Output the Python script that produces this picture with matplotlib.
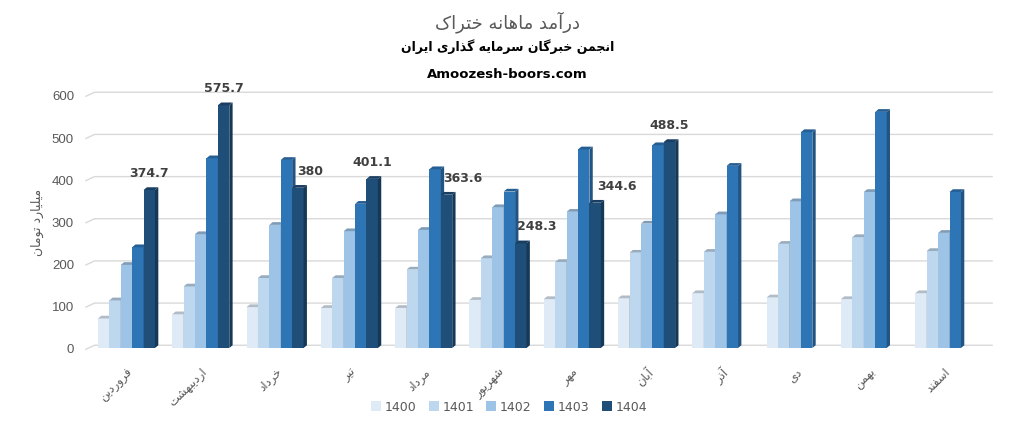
import matplotlib
matplotlib.use("Agg")
import matplotlib.pyplot as plt
from matplotlib.patches import Polygon
import numpy as np

# ---------------- data ----------------
months = ["فروردین", "اردیبهشت", "خرداد", "تیر", "مرداد", "شهریور",
          "مهر", "آبان", "آذر", "دی", "بهمن", "اسفند"]
years = ["1400", "1401", "1402", "1403", "1404"]
v1400 = [70, 80, 97, 95, 95, 114, 116, 118, 130, 120, 116, 130]
v1401 = [113, 146, 166, 166, 186, 213, 204, 226, 228, 247, 263, 230]
v1402 = [197, 270, 292, 277, 280, 334, 323, 295, 317, 348, 370, 273]
v1403 = [239, 450, 446, 342, 424, 371, 471, 481, 432, 512, 560, 370]
v1404 = [374.7, 575.7, 380, 401.1, 363.6, 248.3, 344.6, 488.5]
series = [v1400, v1401, v1402, v1403, v1404]
yticks = [0, 100, 200, 300, 400, 500, 600]

title_txt = "درآمد ماهانه ختراک"
subtitle_txt = "انجمن خبرگان سرمایه گذاری ایران"
site_txt = "Amoozesh-boors.com"
ylabel_txt = "میلیارد تومان"

colors = ["#DEEBF7", "#BDD7EE", "#9DC3E6", "#2E75B6", "#1F4E79"]

# ---------------- Persian shaping ----------------
FORMS = {
    'ا': ('\uFE8D', '\uFE8E', None, None),
    'آ': ('\uFE81', '\uFE82', None, None),
    'ب': ('\uFE8F', '\uFE90', '\uFE91', '\uFE92'),
    'ت': ('\uFE95', '\uFE96', '\uFE97', '\uFE98'),
    'ج': ('\uFE9D', '\uFE9E', '\uFE9F', '\uFEA0'),
    'خ': ('\uFEA5', '\uFEA6', '\uFEA7', '\uFEA8'),
    'د': ('\uFEA9', '\uFEAA', None, None),
    'ذ': ('\uFEAB', '\uFEAC', None, None),
    'ر': ('\uFEAD', '\uFEAE', None, None),
    'ز': ('\uFEAF', '\uFEB0', None, None),
    'س': ('\uFEB1', '\uFEB2', '\uFEB3', '\uFEB4'),
    'ش': ('\uFEB5', '\uFEB6', '\uFEB7', '\uFEB8'),
    'ف': ('\uFED1', '\uFED2', '\uFED3', '\uFED4'),
    'ل': ('\uFEDD', '\uFEDE', '\uFEDF', '\uFEE0'),
    'م': ('\uFEE1', '\uFEE2', '\uFEE3', '\uFEE4'),
    'ن': ('\uFEE5', '\uFEE6', '\uFEE7', '\uFEE8'),
    'ه': ('\uFEE9', '\uFEEA', '\uFEEB', '\uFEEC'),
    'و': ('\uFEED', '\uFEEE', None, None),
    '\u06CC': ('\uFBFC', '\uFBFD', '\uFBFE', '\uFBFF'),
    '\u06A9': ('\uFB8E', '\uFB8F', '\uFB90', '\uFB91'),
    '\u06AF': ('\uFB92', '\uFB93', '\uFB94', '\uFB95'),
}
NORM = {'\u064A': '\u06CC', '\u0643': '\u06A9'}


def fa(s):
    s = "".join(NORM.get(c, c) for c in s)
    out = []
    n = len(s)
    for i, c in enumerate(s):
        if c not in FORMS:
            out.append(c)
            continue
        f = FORMS[c]
        prev = s[i - 1] if i > 0 else None
        nxt = s[i + 1] if i < n - 1 else None
        pj = prev is not None and prev in FORMS and FORMS[prev][2] is not None
        nj = f[2] is not None and nxt is not None and nxt in FORMS
        if pj and nj:
            g = f[3]
        elif pj:
            g = f[1]
        elif nj:
            g = f[2]
        else:
            g = f[0]
        out.append(g)
    return "".join(out[::-1])


# ---------------- figure ----------------
W, H = 1013, 431
fig = plt.figure(figsize=(W / 100, H / 100), dpi=100)
ax = fig.add_axes([89.3 / W, 1 - 349 / H, (981 - 89.3) / W, (349 - 96) / H])
ax.set_xlim(-0.5, 11.5)
ax.set_ylim(0, 600)

x = np.arange(len(months))
bw = 0.1535
ddx = 0.045   # depth in x (data units)
ddy = 6.5     # depth in y (data units)


def shade(c, f):
    r, g, b = matplotlib.colors.to_rgb(c)
    return (r * f, g * f, b * f)


# back gridlines with slanted left part
for v in yticks:
    ax.plot([-0.545, -0.43, 11.5 + 0.15], [v - 3, v + ddy, v + ddy],
            color="#D9D9D9", lw=1, zorder=0, clip_on=False)

containers = []
for j, vals in enumerate(series):
    xs = x[:len(vals)] + (j - 2) * bw
    c = ax.bar(xs, vals, width=bw, color=colors[j], label=years[j],
               zorder=2 + j, linewidth=0)
    containers.append(c)
    for xi, h in zip(xs, vals):
        l, r = xi - bw / 2, xi + bw / 2
        side = Polygon([(r, 0), (r + ddx, ddy), (r + ddx, h + ddy), (r, h)],
                       closed=True, facecolor=shade(colors[j], 0.72),
                       edgecolor="none", zorder=2 + j)
        top = Polygon([(l, h), (l + ddx, h + ddy), (r + ddx, h + ddy), (r, h)],
                      closed=True, facecolor=shade(colors[j], 0.8),
                      edgecolor="none", zorder=2 + j)
        ax.add_patch(side)
        ax.add_patch(top)

# data labels for 1404
label_dx = [0, 0, 12, 0, 16, 16, 22, 0]
for i, v in enumerate(v1404):
    xi = x[i] + 2 * bw
    ax.annotate(f"{v:g}", (xi, v), xytext=(label_dx[i], 11),
                textcoords="offset pixels", ha="center", va="bottom",
                fontsize=9, fontweight="bold", color="#404040",
                family="DejaVu Sans", zorder=10)

for s in ax.spines.values():
    s.set_visible(False)
ax.set_yticks(yticks)
ax.set_yticklabels([str(t) for t in yticks], color="#595959", fontsize=9.5,
                   family="Liberation Sans")
ax.tick_params(axis="y", length=0, pad=11)
ax.set_xticks(x)
ax.set_xticklabels([fa(m) for m in months], rotation=45, ha="right", va="top",
                   rotation_mode="anchor", color="#595959", fontsize=8.5,
                   family="DejaVu Sans")
ax.tick_params(axis="x", length=0, pad=12)

fig.text(37 / W, 1 - 222 / H, fa(ylabel_txt), rotation=90, ha="center",
         va="center", color="#595959", fontsize=9, family="DejaVu Sans")

fig.text(507 / W, 1 - 22 / H, fa(title_txt), ha="center", va="center",
         color="#595959", fontsize=13, family="DejaVu Sans")
fig.text(508 / W, 1 - 47 / H, fa(subtitle_txt), ha="center", va="center",
         color="black", fontsize=9, fontweight="bold", family="DejaVu Sans")
fig.text(507 / W, 1 - 75 / H, site_txt, ha="center", va="center",
         color="black", fontsize=9.5, fontweight="bold", family="DejaVu Sans")

leg = fig.legend(handles=containers, labels=years, loc="center",
                 bbox_to_anchor=(509 / W, 1 - 408 / H), ncol=5, frameon=False,
                 fontsize=9, handlelength=0.8, handleheight=0.8,
                 columnspacing=1.0, handletextpad=0.3)
for t in leg.get_texts():
    t.set_color("#595959")

fig.savefig("out.png", dpi=100)
